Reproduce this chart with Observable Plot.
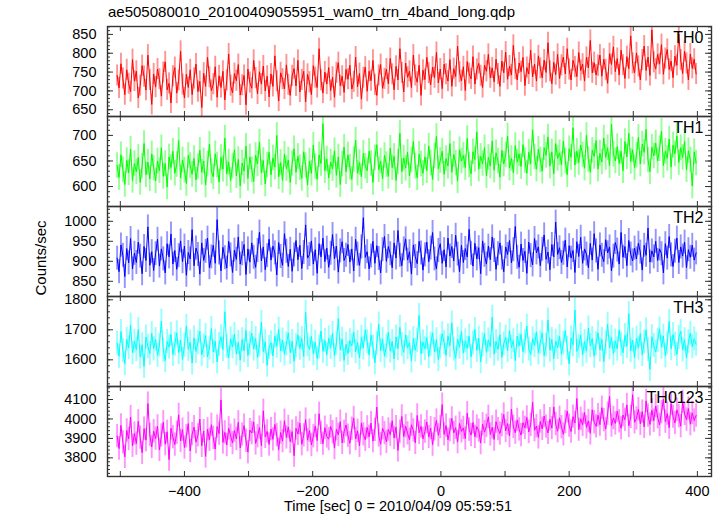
<!DOCTYPE html>
<html>
<head>
<meta charset="utf-8">
<script src="https://cdn.jsdelivr.net/npm/d3@7"></script>
<script src="https://cdn.jsdelivr.net/npm/@observablehq/plot@0.6"></script>
<style>
  html, body { margin: 0; padding: 0; background: #fff; }
  #root { position: relative; width: 723px; height: 516px; font-family: "Liberation Sans", Arial, sans-serif; color: #000; overflow: hidden; }
  .abs { position: absolute; }
  #title { left: 108px; top: 3px; font-size: 15px; white-space: nowrap; }
  #ylab { left: 40px; top: 258px; font-size: 15px; transform: translate(-50%, -50%) rotate(-90deg); white-space: nowrap; }
  #xlab { left: 398px; top: 498px; font-size: 14.5px; transform: translateX(-50%); white-space: nowrap; }
</style>
</head>
<body>
<div id="root">
  <div id="title" class="abs">ae505080010_20100409055951_wam0_trn_4band_long.qdp</div>
  <div id="ylab" class="abs">Counts/sec</div>
  <div id="xlab" class="abs">Time [sec] 0 = 2010/04/09 05:59:51</div>
</div>
<script>
// ---- data ----
const tStart = -505;   // first bin time (s)
const tStep = 3;       // bin width (s)
const bands = ["TH0", "TH1", "TH2", "TH3", "TH0123"];
const colors = ["#ff0000", "#00ff00", "#0000ff", "#00ffff", "#ff00ff"];
const errors = [28, 25, 30, 40, 60];

const th0 = [
741,708,772,733,690,756,719,698,783,726,
752,681,714,767,738,702,795,729,664,745,
710,758,731,686,749,777,703,720,668,739,
762,694,728,805,717,681,744,709,756,690,
733,771,698,725,656,747,712,789,736,701,
718,764,683,740,709,752,676,728,798,714,
695,746,727,770,689,715,741,663,758,722,
707,781,734,692,751,718,766,700,739,684,
745,712,793,726,673,748,731,705,769,716,
688,740,759,713,781,697,729,752,671,744,
723,690,767,735,709,812,728,694,750,718,
762,701,736,683,748,775,714,739,696,757,
731,768,705,724,790,711,746,678,735,763,
699,752,727,781,716,688,741,770,707,732,
758,719,786,744,703,765,729,812,748,697,
774,736,752,709,795,741,723,768,688,755,
730,789,747,716,763,735,802,721,758,706,
771,744,726,783,712,759,738,819,750,727,
764,701,778,746,732,791,718,757,773,740,
709,768,752,797,735,761,724,784,745,712,
779,748,803,731,766,742,821,758,729,774,
751,789,714,762,745,808,737,771,726,793,
760,735,782,749,828,752,719,776,743,797,
733,768,790,745,812,757,729,781,763,738,
802,754,771,726,789,761,834,748,775,742,
767,795,739,784,756,720,799,770,817,751,
786,742,808,768,733,791,759,846,773,748,
801,765,729,782,819,754,790,741,862,776,
758,797,771,823,744,786,810,757,779,735,
792,768,851,782,746,805,773,729,798,760,
784,745];

const th1 = [
641,618,662,633,604,651,627,673,612,645,
629,657,608,640,684,623,648,615,664,636,
611,650,631,676,620,645,599,658,637,669,
626,643,690,617,652,632,606,661,641,624,
655,613,639,671,628,650,603,644,683,630,
619,664,642,609,657,634,695,625,648,612,
640,672,621,653,601,646,630,679,616,658,
633,610,661,644,687,627,651,605,642,667,
623,656,638,700,619,647,612,663,635,652,
608,645,674,628,659,637,616,668,641,603,
650,626,681,639,614,662,645,723,631,654,
617,648,635,670,622,658,604,644,677,629,
662,638,614,653,691,626,647,619,665,640,
631,669,645,608,656,682,633,650,615,661,
643,620,675,637,659,612,648,704,629,656,
636,667,621,652,688,640,617,663,644,626,
658,631,679,646,614,660,698,635,651,669,
624,655,640,684,628,663,646,611,672,650,
661,637,694,642,625,668,653,707,634,659,
645,676,621,657,640,689,632,666,650,618,
671,644,662,699,636,655,627,680,648,664,
639,682,651,626,667,645,711,658,634,673,
652,630,676,661,697,640,668,625,684,655,
666,643,689,650,623,674,657,715,642,669,
647,681,662,636,700,653,628,671,659,690,
634,665,648,695,657,676,641,722,663,650,
678,645,669,631,688,658,704,649,672,637,
661,696,644,683,667,712,652,629,677,660,
685,650,674,708,641,669,655,693,638,681,
664,699,647,676,657,688,633,670,652,601,
668,646];

const th2 = [
908,874,941,915,862,932,896,957,881,920,
897,948,913,869,937,902,986,890,924,877,
919,955,888,931,906,871,944,911,968,893,
927,880,914,951,899,938,865,922,906,979,
889,933,917,868,946,902,925,958,884,911,
940,895,1004,921,876,935,909,883,950,916,
872,928,905,961,893,919,942,867,931,898,
946,910,885,927,973,901,936,879,914,955,
903,938,921,866,947,912,890,969,925,887,
930,875,916,952,904,940,882,922,991,908,
917,951,893,929,870,944,911,958,899,933,
885,920,967,906,938,873,926,949,902,915,
942,898,931,876,955,918,890,936,1009,910,
924,881,913,950,895,939,907,871,929,962,
900,937,919,884,946,908,977,915,889,931,
956,903,924,868,941,912,894,950,921,878,
916,948,899,933,972,906,881,927,944,895,
929,886,958,913,937,901,965,918,874,940,
897,932,911,980,920,888,945,906,934,869,
951,915,893,938,904,961,927,880,919,946,
908,874,936,917,952,896,929,987,910,885,
943,902,925,870,948,914,891,957,921,936,
889,930,966,905,923,879,942,911,998,917,
934,897,920,953,886,939,908,927,872,949,
912,960,895,931,918,884,945,903,969,926,
880,941,915,899,954,921,936,876,913,947,
928,893,972,910,937,889,952,918,901,933,
906,945,923,878,940,915,983,898,926,911,
950,902,931,919,871,944,908,962,916,887,
925,958,897,936,913,948,884,929,910,940,
903,921];

const th3 = [
1655,1612,1694,1631,1587,1668,1640,1716,1623,1662,
1634,1701,1609,1650,1578,1676,1644,1621,1688,1637,
1668,1615,1649,1729,1632,1597,1661,1642,1685,1618,
1652,1690,1624,1666,1601,1648,1712,1635,1659,1589,
1673,1628,1657,1695,1617,1646,1681,1610,1639,1704,
1626,1662,1593,1651,1677,1634,1760,1645,1606,1670,
1643,1685,1620,1658,1599,1667,1630,1698,1614,1654,
1688,1636,1671,1608,1649,1725,1627,1660,1582,1641,
1657,1613,1679,1645,1702,1630,1666,1619,1653,1690,
1624,1661,1595,1647,1683,1638,1671,1611,1758,1650,
1635,1678,1620,1659,1604,1643,1696,1628,1665,1617,
1672,1641,1688,1614,1655,1737,1633,1669,1598,1652,
1621,1664,1646,1693,1627,1658,1606,1675,1639,1700,
1660,1616,1682,1643,1590,1654,1719,1631,1668,1612,
1645,1692,1629,1661,1603,1676,1637,1708,1651,1625,
1683,1640,1657,1596,1671,1632,1664,1748,1620,1659,
1637,1674,1611,1652,1690,1626,1667,1601,1644,1687,
1658,1615,1680,1647,1723,1636,1605,1669,1642,1694,
1622,1663,1638,1679,1610,1656,1701,1631,1672,1593,
1650,1687,1625,1666,1644,1742,1619,1661,1635,1684,
1608,1653,1676,1630,1697,1641,1664,1597,1679,1646,
1685,1627,1660,1712,1636,1618,1670,1648,1693,1623,
1657,1690,1614,1649,1733,1632,1668,1604,1662,1641,
1678,1620,1655,1697,1639,1586,1673,1650,1766,1628,
1645,1682,1616,1661,1629,1706,1647,1671,1612,1654,
1690,1633,1668,1594,1657,1718,1640,1675,1621,1663,
1636,1699,1652,1624,1681,1645,1754,1630,1666,1608,
1672,1639,1687,1617,1659,1700,1634,1568,1677,1648,
1626,1665,1703,1642,1679,1613,1656,1728,1637,1684,
1651,1618,1674,1695,1633,1667,1606,1660,1689,1644,
1670,1652];

const th0123 = [
3912,3848,3967,3880,3805,3941,3897,4010,3862,3925,
3873,3988,3904,3826,3950,3891,4079,3918,3856,3937,
3899,3962,3841,3915,3983,3870,3934,3791,3952,3906,
3868,3929,4021,3887,3945,3853,3911,3976,3835,3922,
3958,3881,3916,3999,3862,3938,3807,3947,3893,3970,
3903,3845,3961,3924,4098,3879,3931,3866,3952,3914,
3876,3940,3897,3983,3851,3920,3966,3888,3829,3943,
3927,3985,3874,3911,3956,3862,4042,3908,3936,3869,
3948,3895,3972,3917,3842,3930,3886,3991,3905,3959,
3883,3935,3811,3952,3923,3978,3870,3916,3997,3891,
3940,3866,3911,3964,3889,4027,3928,3873,3955,3910,
3896,3961,3932,3850,3947,3918,3986,3877,3934,3969,
3914,3875,3950,4005,3897,3939,3862,3978,3921,3893,
3957,3908,3979,3886,3944,4061,3915,3870,3952,3927,
3882,3946,3919,3991,3902,3958,3838,3935,4013,3910,
3963,3926,3894,3970,3941,3877,4018,3929,3962,3898,
3935,3984,3907,3953,3868,3947,3992,3916,3959,4074,
3921,3966,3893,3942,4003,3928,3955,3881,3977,3936,
3954,3899,4030,3945,3917,3982,3908,3961,3940,3876,
3973,3932,3965,4011,3920,3957,3894,3986,3948,3925,
3968,4023,3938,3976,3912,4051,3959,3929,3995,3946,
3917,3981,3954,4008,3933,3970,4086,3942,3963,3905,
3987,3949,4015,3961,3928,3999,3953,4062,3974,3937,
4006,3958,3921,3984,4040,3966,3935,4012,3979,4105,
3945,4001,3970,4033,3957,3990,3926,4047,3983,3962,
4019,3971,4058,3994,3948,4027,4116,3966,4005,3977,
4041,3988,3952,4020,3996,4072,3964,4011,4125,3983,
4003,4050,3975,4038,3959,4093,4017,3972,4045,3991,
4066,4009,3969,4035,4102,3986,4028,3955,4079,4012,
3980,4047,4014,3963,4088,4026,3997,4054,3973,4031,
3992,4018];

const seriesValues = [th0, th1, th2, th3, th0123];

// axes
const xDomain = [-520, 422];
const xLabelTicks = [-400, -200, 0, 200, 400];
const xTickMarks = [-500, -400, -300, -200, -100, 0, 100, 200, 300, 400];
const yDomains = [[632, 871], [561, 737], [812, 1037], [1511, 1811], [3704, 4167]];
const yLabelTicks = [
  [650, 700, 750, 800, 850],
  [600, 650, 700],
  [850, 900, 950, 1000],
  [1600, 1700, 1800],
  [3800, 3900, 4000, 4100]
];
const yMinorSteps = [10, 10, 10, 20, 20];

// ---- layout ----
const W = 723, ML = 107, MR = 12, PH = 90, TOP = 26;
const FW = W - ML - MR;
const root = document.getElementById("root");

bands.forEach((name, i) => {
  const vals = seriesValues[i];
  const data = vals.map((v, k) => ({t: tStart + tStep * k, v}));
  const err = errors[i];
  const color = colors[i];
  const last = i === bands.length - 1;
  const [y0, y1] = yDomains[i];
  const step = yMinorSteps[i];
  const minor = d3.range(Math.ceil(y0 / step) * step, y1 + 0.001, step);
  const major = yLabelTicks[i];
  const mb = last ? 40 : 0;

  const svg = Plot.plot({
    width: W,
    height: PH + mb,
    marginLeft: ML,
    marginRight: MR,
    marginTop: 0,
    marginBottom: mb,
    style: {fontFamily: '"Liberation Sans", Arial, sans-serif', fontSize: "14.5px", background: "transparent", overflow: "visible", color: "#000"},
    x: {domain: xDomain, axis: last ? "bottom" : null, ticks: xLabelTicks, tickSize: 0, tickPadding: 9, label: null},
    y: {domain: yDomains[i], ticks: major, tickSize: 0, tickPadding: 11, label: null, tickFormat: d3.format("d")},
    marks: [
      Plot.ruleX(data, {x: "t", y1: d => d.v - err, y2: d => d.v + err, stroke: color, strokeOpacity: 0.42, strokeWidth: 1.9, clip: true}),
      Plot.line(data, {x: "t", y: "v", stroke: color, strokeWidth: 1, clip: true}),
      // y ticks, left & right, inward
      Plot.tickY(minor, {y: d => d, insetRight: FW - 3, stroke: "#333"}),
      Plot.tickY(minor, {y: d => d, insetLeft: FW - 3, stroke: "#333"}),
      Plot.tickY(major, {y: d => d, insetRight: FW - 6, stroke: "#333"}),
      Plot.tickY(major, {y: d => d, insetLeft: FW - 6, stroke: "#333"}),
      // x ticks, top & bottom, inward
      Plot.tickX(xTickMarks, {x: d => d, insetTop: PH - 5, stroke: "#333"}),
      Plot.tickX(xTickMarks, {x: d => d, insetBottom: PH - 5, stroke: "#333"}),
      Plot.text([name], {frameAnchor: "top-right", textAnchor: "end", dx: -8, dy: 5, fontSize: 16, fill: "#000"}),
      Plot.frame({stroke: "#333", strokeWidth: 1.4})
    ]
  });
  svg.style.position = "absolute";
  svg.style.left = "0px";
  svg.style.top = (TOP + PH * i) + "px";
  root.appendChild(svg);
});
</script>
</body>
</html>
